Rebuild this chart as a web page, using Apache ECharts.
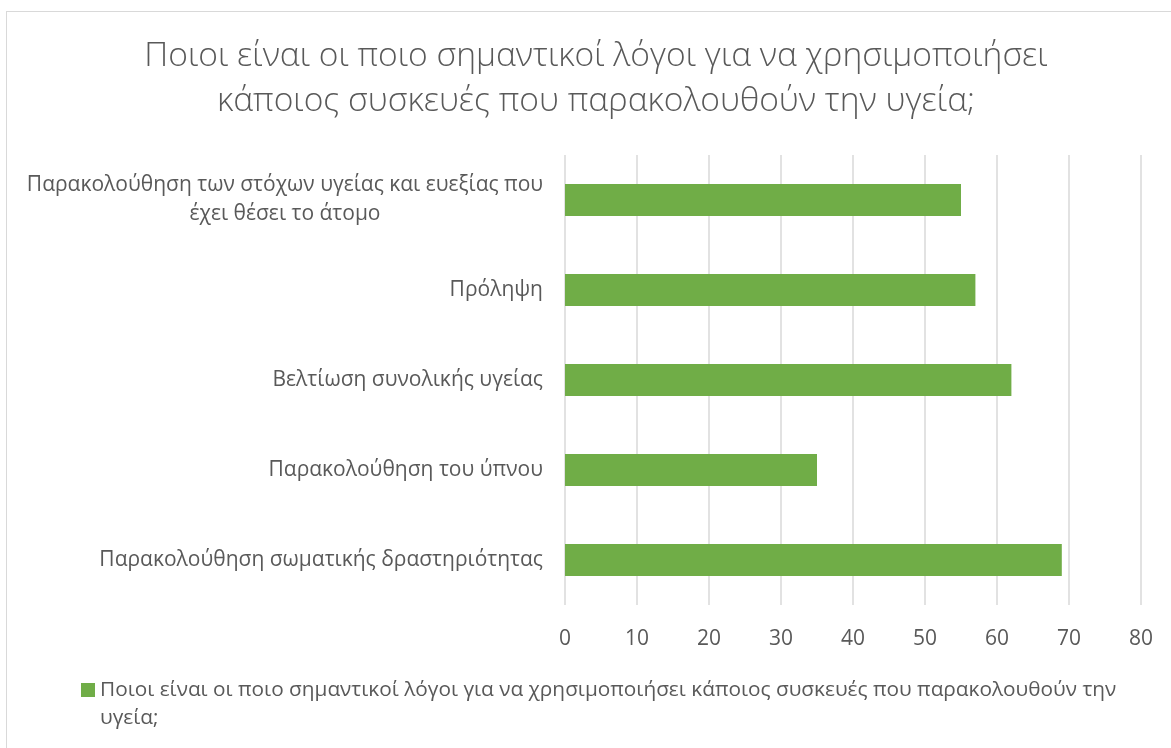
<!DOCTYPE html>
<html>
<head>
<meta charset="utf-8">
<script src="https://cdn.jsdelivr.net/npm/echarts@6/dist/echarts.min.js"></script>
<style>
  html, body { margin: 0; padding: 0; background: #ffffff; overflow: hidden; width: 1171px; height: 748px; }
  #frame { position: absolute; left: 6px; top: 11px; width: 1180px; height: 760px; border: 1px solid #d9d9d9; box-sizing: border-box; }
  #chart { width: 1192px; height: 748px; position: absolute; left: 0; top: 0; }
</style>
</head>
<body>
<div id="frame"></div>
<div id="chart"></div>
<script>
// Reasons for using health-tracking devices (bottom-to-top order on the axis)
const categories = [
  'Παρακολούθηση σωματικής δραστηριότητας',
  'Παρακολούθηση του ύπνου',
  'Βελτίωση συνολικής υγείας',
  'Πρόληψη',
  'Παρακολούθηση των στόχων υγείας και ευεξίας που\nέχει θέσει το άτομο'
];
const values = [69, 35, 62, 57, 55];
const seriesName = 'Ποιοι είναι οι ποιο σημαντικοί λόγοι για να χρησιμοποιήσει κάποιος συσκευές που παρακολουθούν την υγεία;';
const legendLabel = 'Ποιοι είναι οι ποιο σημαντικοί λόγοι για να χρησιμοποιήσει κάποιος συσκευές που παρακολουθούν την\nυγεία;';
const titleText = 'Ποιοι είναι οι ποιο σημαντικοί λόγοι για να χρησιμοποιήσει\nκάποιος συσκευές που παρακολουθούν την υγεία;';
const xTicks = { min: 0, max: 80, interval: 10 };

const font = '"Open Sans", "Noto Sans", sans-serif';
const grey = '#595959';

const chart = echarts.init(document.getElementById('chart'), null, { renderer: 'canvas' });
chart.setOption({
  backgroundColor: 'transparent',
  animation: false,
  title: {
    text: titleText,
    left: 'center',
    top: 29,
    textStyle: { fontFamily: font, fontSize: 33.6, fontWeight: 300, color: grey, lineHeight: 45 }
  },
  legend: {
    left: 81,
    top: 648,
    padding: 0,
    itemWidth: 14,
    itemHeight: 14,
    itemGap: 5,
    icon: 'rect',
    // a leading blank line keeps the marker level with the first text line
    formatter: function () { return '\n' + legendLabel; },
    textStyle: { fontFamily: font, fontSize: 20.8, color: grey, lineHeight: 28 },
    data: [seriesName]
  },
  grid: { left: 565, right: 51, top: 155, bottom: 143, containLabel: false },
  xAxis: {
    type: 'value',
    min: xTicks.min,
    max: xTicks.max,
    interval: xTicks.interval,
    axisLine: { show: false },
    axisTick: { show: false },
    axisLabel: { fontFamily: font, fontSize: 21, color: grey, margin: 24 },
    splitLine: { lineStyle: { color: '#d9d9d9', width: 1.5 } }
  },
  yAxis: {
    type: 'category',
    data: categories,
    axisLine: { show: false },
    axisTick: { show: false },
    axisLabel: {
      fontFamily: font, fontSize: 21, color: grey, margin: 22, lineHeight: 29, align: 'right',
      formatter: function (v) { return v.indexOf('\n') >= 0 ? '{wrap|' + v + '}' : v; },
      rich: {
        wrap: { width: 516, align: 'center', fontFamily: font, fontSize: 21, color: grey, lineHeight: 29 }
      }
    }
  },
  series: [{
    name: seriesName,
    type: 'bar',
    data: values,
    barWidth: 32,
    itemStyle: { color: '#70ad47' }
  }]
});
</script>
</body>
</html>
